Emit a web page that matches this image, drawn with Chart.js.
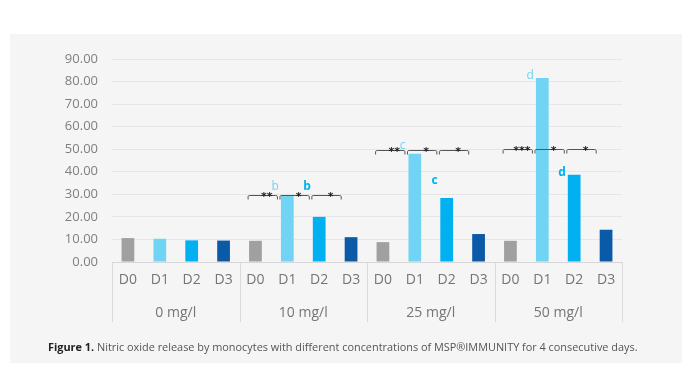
<!DOCTYPE html>
<html>
<head>
<meta charset="utf-8">
<script src="https://cdn.jsdelivr.net/npm/chart.js@4"></script>
<style>
  html, body { margin: 0; padding: 0; background: #fff; }
  body { width: 695px; height: 390px; position: relative; overflow: hidden; font-family: "Open Sans", sans-serif; }
  #panel { position: absolute; left: 10px; top: 34px; width: 672px; height: 329px; background: #f5f5f5; }
  #wrap { position: absolute; left: 0; top: 0; width: 695px; height: 390px; }
  #caption { position: absolute; left: 48px; top: 339px; font-size: 10.9px; color: #555; white-space: nowrap; }
  #caption b { color: #222; }
</style>
</head>
<body>
<div id="panel"></div>
<div id="wrap"><canvas id="c"></canvas></div>
<div id="caption"><b>Figure 1.</b> Nitric oxide release by monocytes with different concentrations of MSP®IMMUNITY for 4 consecutive days.</div>
<script>
// groups and days
const groups = ['0 mg/l', '10 mg/l', '25 mg/l', '50 mg/l'];
const days   = ['D0', 'D1', 'D2', 'D3'];
const dayColors = ['#a0a0a0', '#72d4f4', '#00b0f0', '#0a5aa8'];

// values per day, one entry per group
const d0 = [10.6, 9.4, 8.8, 9.4];
const d1 = [10.3, 29.3, 48.0, 81.6];
const d2 = [9.6, 20.0, 28.4, 38.7];
const d3 = [9.5, 11.0, 12.4, 14.3];

const yTicks = [0, 10, 20, 30, 40, 50, 60, 70, 80, 90];

// significance brackets: [group, fromDay, value, stars]
const brackets = [
  [1, 0, 29.5, '**'], [1, 1, 29.5, '*'], [1, 2, 29.5, '*'],
  [2, 0, 49.6, '**'], [2, 1, 49.6, '*'], [2, 2, 49.6, '*'],
  [3, 0, 50.3, '***'], [3, 1, 50.3, '*'], [3, 2, 50.3, '*'],
];

// letters: [group, day, value, text]
const letters = [
  [1, 1, 32.6, 'b'], [1, 2, 32.6, 'b'],
  [2, 1, 50.8, 'c'], [2, 2, 35.0, 'c'],
  [3, 1, 81.6, 'd'], [3, 2, 38.8, 'd'],
];

const series = [d0, d1, d2, d3];
const labels = [], values = [], colors = [];
groups.forEach((g, gi) => {
  days.forEach((d, di) => {
    labels.push(d);
    values.push(series[di][gi]);
    colors.push(dayColors[di]);
  });
});

const annot = {
  id: 'annot',
  afterDatasetsDraw(chart) {
    const cx = chart.ctx, x = chart.scales.x, y = chart.scales.y;
    const slot = x.getPixelForValue(1) - x.getPixelForValue(0);
    cx.save();
    // brackets
    cx.strokeStyle = '#555';
    cx.lineWidth = 1;
    brackets.forEach(([g, d, v, s]) => {
      const i = g * 4 + d;
      const x0 = x.getPixelForValue(i) - 0.23 * slot;
      const x1 = x.getPixelForValue(i) + 0.69 * slot;
      const yy = Math.round(y.getPixelForValue(v)) + 0.5;
      cx.beginPath();
      cx.moveTo(x0, yy + 4);
      cx.lineTo(x0, yy + 1);
      cx.quadraticCurveTo(x0, yy, x0 + 2, yy);
      cx.lineTo(x1 - 2, yy);
      cx.quadraticCurveTo(x1, yy, x1, yy + 1);
      cx.lineTo(x1, yy + 4);
      cx.stroke();
      cx.fillStyle = '#222';
      cx.font = 'bold 11px "DejaVu Sans"';
      cx.textAlign = 'center';
      cx.textBaseline = 'middle';
      cx.fillText(s, (x0 + x1) / 2 + 4, yy + 2);
    });
    // letters
    letters.forEach(([g, d, v, t]) => {
      const i = g * 4 + d;
      cx.fillStyle = dayColors[d];
      cx.font = (d === 2 ? 'bold ' : '') + '12px "Open Sans"';
      cx.textAlign = 'center';
      cx.textBaseline = 'bottom';
      cx.fillText(t, x.getPixelForValue(i) - 0.38 * slot, y.getPixelForValue(v) + 4);
    });
    cx.restore();
  },
  afterDraw(chart) {
    const cx = chart.ctx, x = chart.scales.x, a = chart.chartArea;
    const slot = x.getPixelForValue(1) - x.getPixelForValue(0);
    cx.save();
    cx.strokeStyle = '#dadada';
    cx.lineWidth = 1;
    for (let g = 0; g <= groups.length; g++) {
      const xx = Math.round(x.getPixelForValue(g * 4) - slot / 2) + 0.5;
      cx.beginPath();
      cx.moveTo(xx, a.bottom);
      cx.lineTo(xx, a.bottom + 60);
      cx.stroke();
    }
    cx.fillStyle = '#757575';
    cx.font = '14px "Open Sans"';
    cx.textAlign = 'center';
    cx.textBaseline = 'middle';
    groups.forEach((g, gi) => {
      const xm = (x.getPixelForValue(gi * 4) + x.getPixelForValue(gi * 4 + 3)) / 2;
      cx.fillText(g, xm, a.bottom + 51);
    });
    cx.restore();
  }
};

new Chart(document.getElementById('c'), {
  type: 'bar',
  data: {
    labels: labels,
    datasets: [{ data: values, backgroundColor: colors, borderWidth: 0, barPercentage: 0.4, categoryPercentage: 1 }],
  },
  options: {
    responsive: true,
    maintainAspectRatio: false,
    animation: false,
    layout: { padding: { top: 59, right: 73, left: 0, bottom: 0 } },
    plugins: { legend: { display: false }, tooltip: { enabled: false } },
    scales: {
      x: {
        grid: { display: false, drawTicks: false },
        border: { color: '#d6d6d6' },
        ticks: { color: '#757575', font: { family: 'Open Sans', size: 14 }, padding: 10, maxRotation: 0, autoSkip: false },
        afterFit: s => { s.height = 128; },
      },
      y: {
        min: 0, max: 90,
        afterBuildTicks: s => { s.ticks = yTicks.map(v => ({ value: v })); },
        grid: { color: '#e6e6e6', drawTicks: false },
        border: { display: false },
        ticks: { color: '#7f7f7f', font: { family: 'Open Sans', size: 13 }, padding: 14, callback: v => v.toFixed(2) },
        afterFit: s => { s.width = 112; },
      },
    },
  },
  plugins: [annot],
});
</script>
</body>
</html>
